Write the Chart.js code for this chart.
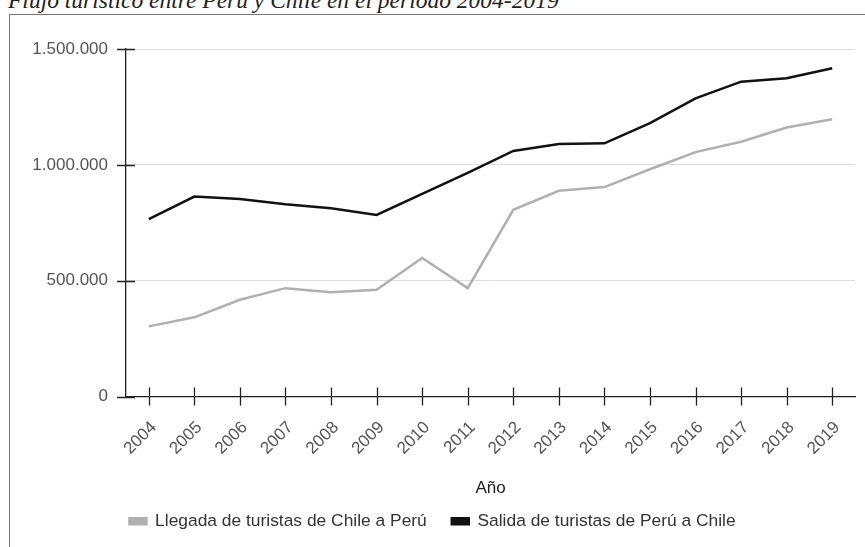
<!DOCTYPE html>
<html>
<head>
<meta charset="utf-8">
<script src="https://cdn.jsdelivr.net/npm/chart.js@4.4.0/dist/chart.umd.min.js"></script>
<style>
  body { margin: 0; background: #fff; overflow: hidden; }
  #title {
    position: absolute; left: 8px; top: -12px;
    font: italic 23.5px "Liberation Serif", serif; color: #222;
    line-height: 24px; white-space: nowrap;
  }
  #frame {
    position: absolute; left: 9px; top: 14px;
    width: 855px; height: 532px;
    border-left: 1px solid #777; border-top: 1px solid #777;
  }
</style>
</head>
<body>
<div id="title">Flujo turístico entre Perú y Chile en el periodo 2004-2019</div>
<div id="frame"><canvas id="chart" width="855" height="532"></canvas></div>
<script>
// Data
const years = ['2004', '2005', '2006', '2007', '2008', '2009', '2010', '2011',
               '2012', '2013', '2014', '2015', '2016', '2017', '2018', '2019'];
const llegadaChilePeru = [303000, 342000, 418000, 468000, 450000, 461000, 598000, 468000,
                          806000, 888000, 904000, 981000, 1055000, 1100000, 1161000, 1197000];
const salidaPeruChile = [766000, 863000, 853000, 830000, 813000, 784000, 875000, 965000,
                         1060000, 1090000, 1093000, 1180000, 1287000, 1359000, 1374000, 1417000];
const yTicks = [0, 500000, 1000000, 1500000];

// Tick marks that cross the axis lines
const crossTicks = {
    id: 'crossTicks',
    afterDatasetsDraw(chart) {
        const { ctx, chartArea, scales } = chart;
        ctx.save();
        ctx.strokeStyle = '#222';
        ctx.lineWidth = 1.3;
        ctx.beginPath();
        scales.y.ticks.forEach((t, i) => {
            const py = Math.round(scales.y.getPixelForTick(i)) + 0.5;
            ctx.moveTo(chartArea.left - 9, py);
            ctx.lineTo(chartArea.left + 9, py);
        });
        scales.x.ticks.forEach((t, i) => {
            const px = Math.round(scales.x.getPixelForTick(i)) + 0.5;
            ctx.moveTo(px, chartArea.bottom - 9);
            ctx.lineTo(px, chartArea.bottom + 9);
        });
        ctx.stroke();
        ctx.restore();
    }
};

const fmt = v => String(v).replace(/\B(?=(\d{3})+(?!\d))/g, '.');

new Chart(document.getElementById('chart').getContext('2d'), {
    type: 'line',
    data: {
        labels: years,
        datasets: [
            {
                label: 'Llegada de turistas de Chile a Perú',
                data: llegadaChilePeru,
                borderColor: '#b0b0b0',
                backgroundColor: '#b0b0b0',
                borderWidth: 2.5,
                pointRadius: 0,
                tension: 0
            },
            {
                label: 'Salida de turistas de Perú a Chile',
                data: salidaPeruChile,
                borderColor: '#111111',
                backgroundColor: '#111111',
                borderWidth: 2.5,
                pointRadius: 0,
                tension: 0
            }
        ]
    },
    options: {
        responsive: false,
        animation: false,
        layout: { padding: { top: 34, right: 10, bottom: 7, left: 0 } },
        plugins: {
            tooltip: { enabled: false },
            legend: {
                position: 'bottom',
                labels: {
                    boxWidth: 17,
                    boxHeight: 6,
                    padding: 25,
                    color: '#333',
                    font: { family: 'Liberation Sans', size: 17.4 }
                }
            }
        },
        scales: {
            x: {
                offset: true,
                grid: { display: false, drawTicks: false },
                border: { color: '#222', width: 1.3 },
                ticks: {
                    color: '#555',
                    padding: 21,
                    labelOffset: 5,
                    minRotation: 45,
                    maxRotation: 45,
                    font: { family: 'Liberation Sans', size: 17 }
                },
                title: {
                    display: true,
                    text: 'Año',
                    color: '#222',
                    padding: { top: 4, bottom: -11 },
                    font: { family: 'Liberation Sans', size: 17 }
                },
                afterFit: s => { s.height = 91; s.paddingLeft = 0; s.paddingRight = 0; }
            },
            y: {
                min: 0,
                max: 1500000,
                afterBuildTicks: s => { s.ticks = yTicks.map(v => ({ value: v })); },
                grid: {
                    drawTicks: false,
                    color: ctx => ctx.tick && ctx.tick.value === 0 ? 'rgba(0,0,0,0)' : '#dcdcdc'
                },
                border: { color: '#222', width: 1.3 },
                ticks: {
                    color: '#555',
                    padding: 18,
                    font: { family: 'Liberation Sans', size: 17 },
                    callback: v => fmt(v)
                },
                afterFit: s => { s.width = 116; }
            }
        }
    },
    plugins: [crossTicks]
});
</script>
</body>
</html>
